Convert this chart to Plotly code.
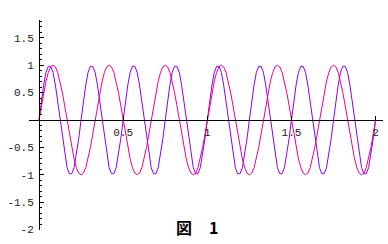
import numpy as np
import plotly.graph_objects as go

# sampling grid of the plotted interval
x_start, x_end, n_pts = 0.0, 2.0, 145

# magenta curve (3 cycles per unit)
magenta_y = [
    0, .26, .5, .71, .87, .97, 1, .97, .87, .71, .5, .26, 0, -.26, -.5, -.71, -.87, -.97, -1, -.97, -.87, -.71, -.5, -.26,
    0, .26, .5, .71, .87, .97, 1, .97, .87, .71, .5, .26, 0, -.26, -.5, -.71, -.87, -.97, -1, -.97, -.87, -.71, -.5, -.26,
    0, .26, .5, .71, .87, .97, 1, .97, .87, .71, .5, .26, 0, -.26, -.5, -.71, -.87, -.97, -1, -.97, -.87, -.71, -.5, -.26,
    0, .26, .5, .71, .87, .97, 1, .97, .87, .71, .5, .26, 0, -.26, -.5, -.71, -.87, -.97, -1, -.97, -.87, -.71, -.5, -.26,
    0, .26, .5, .71, .87, .97, 1, .97, .87, .71, .5, .26, 0, -.26, -.5, -.71, -.87, -.97, -1, -.97, -.87, -.71, -.5, -.26,
    0, .26, .5, .71, .87, .97, 1, .97, .87, .71, .5, .26, 0, -.26, -.5, -.71, -.87, -.97, -1, -.97, -.87, -.71, -.5, -.26,
    0,
]

# purple curve (4 cycles per unit)
purple_y = [
    0, .34, .64, .87, .98, .98, .87, .64, .34, 0, -.34, -.64, -.87, -.98, -.98, -.87, -.64, -.34,
    0, .34, .64, .87, .98, .98, .87, .64, .34, 0, -.34, -.64, -.87, -.98, -.98, -.87, -.64, -.34,
    0, .34, .64, .87, .98, .98, .87, .64, .34, 0, -.34, -.64, -.87, -.98, -.98, -.87, -.64, -.34,
    0, .34, .64, .87, .98, .98, .87, .64, .34, 0, -.34, -.64, -.87, -.98, -.98, -.87, -.64, -.34,
    0, .34, .64, .87, .98, .98, .87, .64, .34, 0, -.34, -.64, -.87, -.98, -.98, -.87, -.64, -.34,
    0, .34, .64, .87, .98, .98, .87, .64, .34, 0, -.34, -.64, -.87, -.98, -.98, -.87, -.64, -.34,
    0, .34, .64, .87, .98, .98, .87, .64, .34, 0, -.34, -.64, -.87, -.98, -.98, -.87, -.64, -.34,
    0, .34, .64, .87, .98, .98, .87, .64, .34, 0, -.34, -.64, -.87, -.98, -.98, -.87, -.64, -.34,
    0,
]

x_ticks = [0.5, 1, 1.5, 2]
x_tick_text = ["0.5", "1", "1.5", "2"]
y_ticks = [-2, -1.5, -1, -0.5, 0.5, 1, 1.5]
y_tick_text = ["-2", "-1.5", "-1", "-0.5", "0.5", "1", "1.5"]
title_parts = ["図", "1"]

x = np.linspace(x_start, x_end, n_pts)

fig = go.Figure()
fig.add_trace(go.Scatter(x=x, y=purple_y, mode="lines",
                         line=dict(color="#8c00f0", width=1)))
fig.add_trace(go.Scatter(x=x, y=magenta_y, mode="lines",
                         line=dict(color="#f0008c", width=1)))

W, H = 388, 244
ml, mr, mt, mb = 29, 5, 20, 14
xr = [-0.0594, 2.044]
yr = [-2.007, 1.825]
pw = W - ml - mr
ph = H - mt - mb
ypos = (0 - xr[0]) / (xr[1] - xr[0])
xpos = (0 - yr[0]) / (yr[1] - yr[0])

tickfont = dict(family="Liberation Mono, DejaVu Sans Mono, monospace", size=11, color="#222")

fig.update_layout(
    width=W, height=H,
    margin=dict(l=ml, r=mr, t=mt, b=mb, pad=0),
    paper_bgcolor="white", plot_bgcolor="white",
    showlegend=False,
    xaxis=dict(range=xr, anchor="free", position=xpos, showgrid=False, zeroline=False,
               showline=True, linecolor="black", linewidth=1,
               tickvals=x_ticks, ticktext=x_tick_text, ticks="inside", ticklen=4,
               tickcolor="black", tickfont=tickfont, ticklabelstandoff=2),
    yaxis=dict(range=yr, anchor="free", position=ypos, showgrid=False, zeroline=False,
               showline=True, linecolor="black", linewidth=1,
               tickvals=y_ticks, ticktext=y_tick_text, ticks="inside", ticklen=4,
               tickcolor="black", tickfont=tickfont, ticklabelstandoff=3,
               minor=dict(ticks="inside", ticklen=2, dtick=0.1, tickcolor="black")),
    font=dict(family="Noto Sans CJK JP"),
)

title_px = [(184, 226.5), (213, 226.5)]
for part, (px, py) in zip(title_parts, title_px):
    fig.add_annotation(x=(px - ml) / pw, y=(H - py - mb) / ph, xref="paper", yref="paper",
                       xanchor="center", yanchor="middle",
                       text="<b>" + part + "</b>", showarrow=False,
                       font=dict(family="Noto Sans CJK JP", size=16, color="black"))

fig.write_html("out.html")
